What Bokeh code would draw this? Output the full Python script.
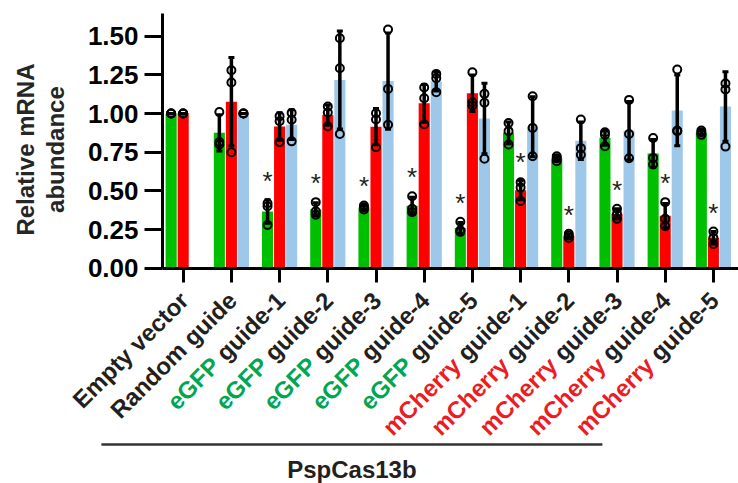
import numpy as np
from bokeh.plotting import figure
from bokeh.models import Range1d, FixedTicker, PrintfTickFormatter, Label, Arrow, LinearAxis
from bokeh.embed import file_html
from bokeh.resources import INLINE

# ---------------- data ----------------
categories = ["Empty vector", "Random guide",
              "eGFP guide-1", "eGFP guide-2", "eGFP guide-3", "eGFP guide-4", "eGFP guide-5",
              "mCherry guide-1", "mCherry guide-2", "mCherry guide-3", "mCherry guide-4", "mCherry guide-5"]

# replicate values (three per bar); None = no bar
green_reps = [[1.00, 1.00, 1.00], [1.01, 0.815, 0.80],
              [0.42, 0.40, 0.28], [0.427, 0.368, 0.345], [0.405, 0.394, 0.38],
              [0.465, 0.384, 0.362], [0.30, 0.245, 0.235],
              [0.939, 0.886, 0.80], [0.724, 0.711, 0.692], [0.879, 0.862, 0.789],
              [0.842, 0.713, 0.67], [0.89, 0.879, 0.862]]
red_reps = [[1.00, 1.00, 1.00], [1.28, 1.20, 0.75],
            [0.983, 0.95, 0.815], [1.045, 1.006, 0.918], [1.002, 0.961, 0.782],
            [1.168, 1.099, 0.931], [1.267, 1.073, 1.052],
            [0.556, 0.521, 0.435], [0.222, 0.211, 0.196], [0.384, 0.351, 0.319],
            [0.427, 0.319, 0.271], [0.237, 0.196, 0.157]]
blue_reps = [None, [1.00, 1.00, 1.00],
             [1.004, 0.96, 0.82], [1.487, 1.293, 0.868], [1.543, 1.159, 0.927],
             [1.256, 1.228, 1.138], [1.127, 1.069, 0.707],
             [1.112, 0.907, 0.724], [0.961, 0.776, 0.733], [1.088, 0.868, 0.711],
             [1.284, 0.89, 0.886], [1.194, 1.155, 0.786]]
# which bar of each group carries a significance star
star_series = [None, None, "green", "green", "green", "green", "green",
               "red", "red", "red", "red", "red"]
y_ticks = [0.0, 0.25, 0.50, 0.75, 1.00, 1.25, 1.50]
y_title = ["Relative mRNA", "abundance"]
group_label = "PspCas13b"
group_first, group_last = 1, 11

# ---------------- layout / style ----------------
W, H = 738, 483
PXX = 48.2            # px per category
PXY = 154.7           # px per unit of abundance
CAT0_X = 182.7        # canvas x of first category
ZERO_Y = 267.7        # canvas y of value 0
X0 = -CAT0_X / PXX
X1 = X0 + W / PXX
Y1 = ZERO_Y / PXY
Y0 = Y1 - H / PXY

FONT = "Liberation Sans"
DARK = "#231F20"
GREEN_TXT = "#00A651"
RED_TXT = "#ED1C24"
series = [("green", green_reps, -0.25, "#00BF00"),
          ("red", red_reps, 0.0, "#FF0000"),
          ("blue", blue_reps, 0.25, "#9DC8EA")]
prefix_colors = {"eGFP": GREEN_TXT, "mCherry": RED_TXT}

def px_x(cx):
    return X0 + cx / PXX

def px_y(cy):
    return Y1 - cy / PXY

p = figure(width=W, height=H, output_backend="svg", toolbar_location=None,
           x_range=Range1d(X0, X1), y_range=Range1d(Y0, Y1),
           x_axis_location=None, y_axis_location=None,
           min_border=0)
p.outline_line_color = None
p.xgrid.visible = False
p.ygrid.visible = False
p.background_fill_color = "white"
p.border_fill_color = "white"

AXIS_X = px_x(162)
AXIS_TOP = px_y(13)

yaxis = LinearAxis(fixed_location=AXIS_X, bounds=(0, AXIS_TOP),
                   ticker=FixedTicker(ticks=y_ticks),
                   formatter=PrintfTickFormatter(format="%.2f"))
yaxis.major_label_text_font = FONT
yaxis.major_label_text_font_style = "bold"
yaxis.major_label_text_font_size = "26px"
yaxis.major_label_text_color = "black"
yaxis.major_tick_out = 18
yaxis.major_tick_in = 0
yaxis.major_label_standoff = 6

xaxis = LinearAxis(fixed_location=0, bounds=(AXIS_X, X1),
                   ticker=FixedTicker(ticks=list(range(len(categories)))))
xaxis.major_label_overrides = {i: "" for i in range(len(categories))}
xaxis.major_tick_out = 14
xaxis.major_tick_in = 0
for ax in (xaxis, yaxis):
    ax.axis_line_width = 3
    ax.major_tick_line_width = 3
    ax.axis_line_color = "black"
    ax.major_tick_line_color = "black"
    ax.minor_tick_line_color = None

BAR_W = 0.23
CAP = 3.0 / PXX
tops = {}
stats = []
for name, reps, off, col in series:
    xs, ms, ss, px, py = [], [], [], [], []
    for i, r in enumerate(reps):
        if r is None:
            continue
        m = float(np.mean(r))
        s = float(np.std(r, ddof=1))
        xs.append(i + off); ms.append(m); ss.append(s)
        px += [i + off] * len(r); py += list(r)
        tops[(name, i)] = (i + off, max(m + s, max(r)))
    stats.append((xs, ms, ss, px, py, col))

for xs, ms, ss, px, py, col in stats:
    p.vbar(x=xs, top=ms, bottom=0, width=BAR_W, fill_color=col, line_color=None)
for xs, ms, ss, px, py, col in stats:
    lo = [m - s for m, s in zip(ms, ss)]
    hi = [m + s for m, s in zip(ms, ss)]
    p.segment(x0=xs, y0=lo, x1=xs, y1=hi, line_color="black", line_width=3.5)
    xl = [x - CAP for x in xs]; xr = [x + CAP for x in xs]
    p.segment(x0=xl, y0=hi, x1=xr, y1=hi, line_color="black", line_width=3)
    p.segment(x0=xl, y0=lo, x1=xr, y1=lo, line_color="black", line_width=3)
for xs, ms, ss, px, py, col in stats:
    p.scatter(x=px, y=py, marker="circle", size=8, fill_color=None,
              line_color="black", line_width=2)

p.add_layout(xaxis, "below")
p.add_layout(yaxis, "left")

# significance stars
STAR_F = 26
STAR_GAP = 19   # px between bar/error top and star centre
for i, s in enumerate(star_series):
    if s is None:
        continue
    x, top = tops[(s, i)]
    p.add_layout(Label(x=x, y=top + STAR_GAP / PXY, text="*",
                       text_font=FONT, text_font_size=f"{STAR_F}px",
                       text_align="center", text_baseline="middle",
                       text_color=DARK))

# rotated category labels (two colours)
LAB_F = 24
widths = {" ": 278, "g": 611, "u": 611, "i": 278, "d": 611, "e": 556, "-": 333}
def text_w(t):
    return sum(widths.get(c, 556) for c in t) * LAB_F / 1000.0

anchor_dy = 28  # px below axis
r2 = np.sqrt(2.0)
for i, cat in enumerate(categories):
    x = i + 1.0 / PXX
    y = -anchor_dy / PXY
    first, _, rest = cat.partition(" ")
    if first in prefix_colors:
        p.add_layout(Label(x=x, y=y, text=rest, angle=45, angle_units="deg",
                           text_font=FONT, text_font_style="bold",
                           text_font_size=f"{LAB_F}px", text_color=DARK,
                           text_align="right", text_baseline="middle"))
        w = text_w(" " + rest) / r2
        p.add_layout(Label(x=x - w / PXX, y=y - w / PXY, text=first, angle=45,
                           angle_units="deg", text_font=FONT, text_font_style="bold",
                           text_font_size=f"{LAB_F}px", text_color=prefix_colors[first],
                           text_align="right", text_baseline="middle"))
    else:
        p.add_layout(Label(x=x, y=y, text=cat, angle=45, angle_units="deg",
                           text_font=FONT, text_font_style="bold",
                           text_font_size=f"{LAB_F}px", text_color=DARK,
                           text_align="right", text_baseline="middle"))

# y-axis title (two lines), centred on the line positions
for txt, cx in zip(y_title, (25, 55)):
    p.add_layout(Label(x=px_x(cx), y=0.767, text=txt, angle=90, angle_units="deg",
                       text_font=FONT, text_font_style="bold", text_font_size="24px",
                       text_color="#262626", text_align="center",
                       text_baseline="middle"))

# group line + label
gx0 = group_first - 130 / PXX
gx1 = group_last - 111 / PXX
gy = px_y(444)
p.add_layout(Arrow(x_start=gx0, y_start=gy, x_end=gx1, y_end=gy, start=None, end=None,
                   line_color="#333333", line_width=2.5))
p.add_layout(Label(x=(gx0 + gx1) / 2, y=px_y(469), text=group_label,
                   text_font=FONT, text_font_style="bold", text_font_size="24px",
                   text_color=DARK, text_align="center", text_baseline="middle"))

open("out.html", "w").write(file_html(p, INLINE))
